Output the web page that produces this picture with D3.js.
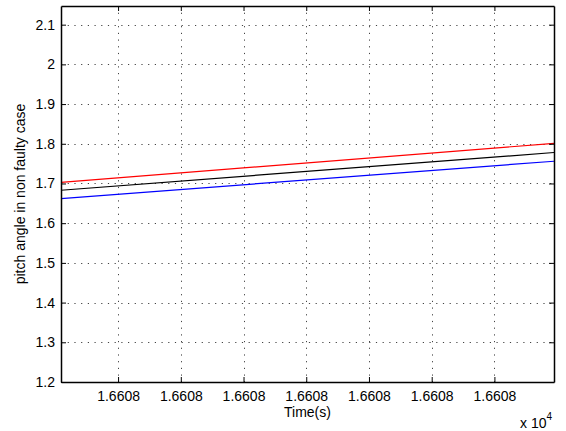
<!DOCTYPE html>
<html>
<head>
<meta charset="utf-8">
<script src="https://cdn.jsdelivr.net/npm/d3@7"></script>
<style>
  body { margin: 0; background: #fff; }
  text { font-family: "Liberation Sans", Arial, sans-serif; fill: #000; }
</style>
</head>
<body>
<div id="chart"></div>
<script>
// time stamps (s) and the three pitch angle traces
var time = [16607.9818, 16608.139];
var pitchRed = [1.703, 1.801];
var pitchBlack = [1.683, 1.778];
var pitchBlue = [1.662, 1.756];
var xTicks = [16608.00, 16608.02, 16608.04, 16608.06, 16608.08, 16608.10, 16608.12];
var yTicks = [1.2, 1.3, 1.4, 1.5, 1.6, 1.7, 1.8, 1.9, 2.0, 2.1];

var width = 566, height = 431;
var margin = {left: 61, right: 12, top: 6, bottom: 49};

var svg = d3.select('#chart').append('svg')
	.attr('width', width)
	.attr('height', height);

var x = d3.scaleLinear().domain([time[0], time[1]]).range([margin.left, width - margin.right]);
var y = d3.scaleLinear().domain([1.2, 2.147]).range([height - margin.bottom, margin.top]);

var g = svg.append('g');

// dotted grid
g.selectAll('.gx').data(xTicks).enter().append('line')
	.attr('x1', function(d) {return Math.round(x(d)) + 0.5;})
	.attr('x2', function(d) {return Math.round(x(d)) + 0.5;})
	.attr('y1', y.range()[1]).attr('y2', y.range()[0])
	.style('stroke', '#444').style('stroke-width', 1).style('stroke-dasharray', '1.2,5.5');

g.selectAll('.gy').data(yTicks).enter().append('line')
	.attr('y1', function(d) {return Math.round(y(d)) + 0.5;})
	.attr('y2', function(d) {return Math.round(y(d)) + 0.5;})
	.attr('x1', x.range()[0]).attr('x2', x.range()[1])
	.style('stroke', '#444').style('stroke-width', 1).style('stroke-dasharray', '1.2,5.5');

// series
var series = [
	{values: pitchRed, color: '#ff0000'},
	{values: pitchBlack, color: '#000000'},
	{values: pitchBlue, color: '#0000ff'}
];
var line = d3.line().x(function(d, i) {return x(time[i]);}).y(function(d) {return y(d);});
g.selectAll('.series').data(series).enter().append('path')
	.attr('d', function(d) {return line(d.values);})
	.style('fill', 'none')
	.style('stroke', function(d) {return d.color;})
	.style('stroke-width', 1.2);

// axes (ticks inward, on all four sides)
var fmt = function(d) {return (d / 1e4).toFixed(4);};
var axB = g.append('g').attr('transform', 'translate(0,' + y.range()[0] + ')')
	.call(d3.axisBottom(x).tickValues(xTicks).tickSizeInner(-5).tickSizeOuter(0).tickPadding(9).tickFormat(fmt));
var axT = g.append('g').attr('transform', 'translate(0,' + y.range()[1] + ')')
	.call(d3.axisTop(x).tickValues(xTicks).tickSizeInner(-5).tickSizeOuter(0).tickFormat(''));
var axL = g.append('g').attr('transform', 'translate(' + x.range()[0] + ',0)')
	.call(d3.axisLeft(y).tickValues(yTicks).tickSizeInner(-5).tickSizeOuter(0).tickPadding(6).tickFormat(d3.format('~g')));
var axR = g.append('g').attr('transform', 'translate(' + x.range()[1] + ',0)')
	.call(d3.axisRight(y).tickValues(yTicks).tickSizeInner(-5).tickSizeOuter(0).tickFormat(''));

[axB, axT, axL, axR].forEach(function(a) {
	a.select('.domain').style('stroke', '#000').style('stroke-width', 1.5);
	a.selectAll('.tick line').style('stroke', '#000');
	a.selectAll('.tick text').style('font-size', '14px').style('font-family', '"Liberation Sans", Arial, sans-serif');
});

// labels
svg.append('text')
	.attr('x', (x.range()[0] + x.range()[1]) / 2)
	.attr('y', 417)
	.attr('text-anchor', 'middle')
	.style('font-size', '14px')
	.text('Time(s)');

svg.append('text')
	.attr('transform', 'translate(25,' + ((y.range()[0] + y.range()[1]) / 2) + ') rotate(-90)')
	.attr('text-anchor', 'middle')
	.style('font-size', '14px')
	.text('pitch angle in non faulty case');

var ex = svg.append('text')
	.attr('x', 520)
	.attr('y', 428)
	.style('font-size', '14px');
ex.append('tspan').text('x 10');
ex.append('tspan').attr('dy', -8).style('font-size', '10px').text('4');
</script>
</body>
</html>
